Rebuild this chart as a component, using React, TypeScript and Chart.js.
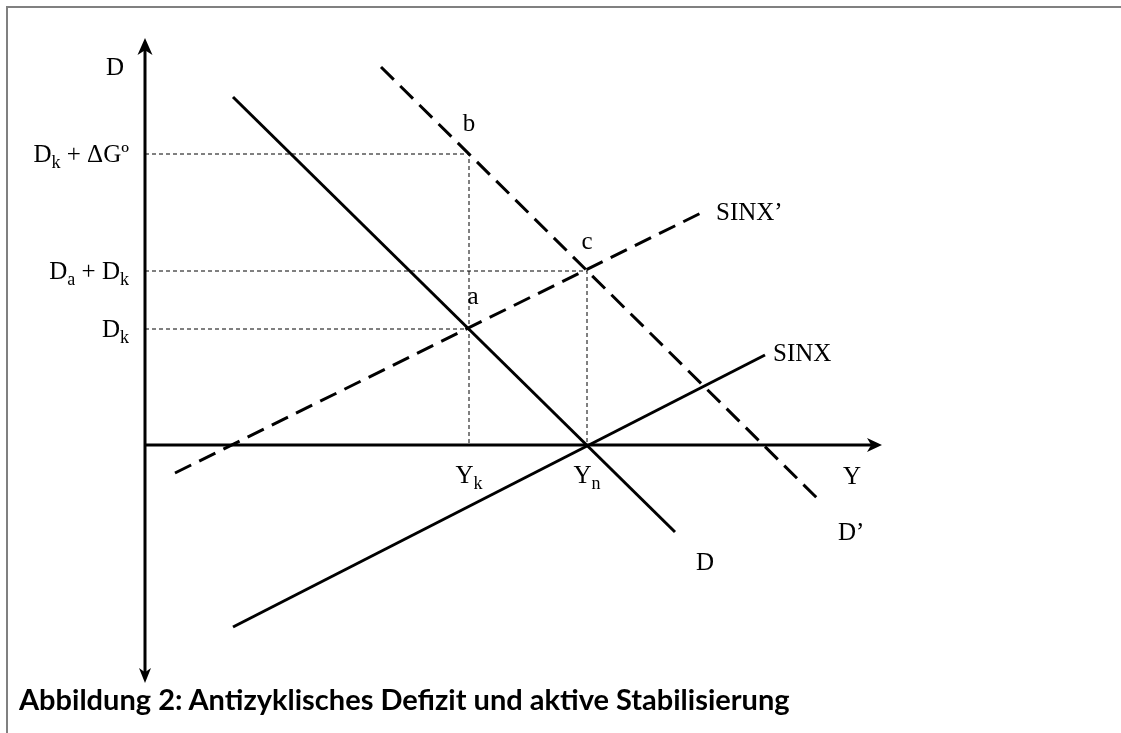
import React, { useEffect, useRef } from 'react';
import { Chart, registerables } from 'chart.js';

Chart.register(...registerables);

// ---- diagram data (abstract units) ----
const axisXRange = [0, 73.7];
const axisYRange = [-23.8, 40.7];

const dLevelLabels = ['D_{k} + ΔGº', 'D_{a} + D_{k}', 'D_{k}'];
const dLevels = [29.1, 17.4, 11.6];

const yLevelLabels = ['Y_{k}', 'Y_{n}'];
const yLevels = [32.4, 44.2];

const curveNames = ['D', 'D’', 'SINX', 'SINX’'];
const curveStartX = [8.8, 23.6, 8.8, 3.0];
const curveStartY = [34.8, 37.8, -18.2, -2.8];
const curveEndX = [53.0, 67.7, 62.0, 55.8];
const curveEndY = [-8.7, -5.8, 9.0, 23.3];
const curveDashed = [false, true, false, true];

const pointNames = ['a', 'b', 'c'];
const pointX = [32.4, 32.4, 44.2];
const pointY = [11.6, 29.1, 17.4];

const axisNames = ['D', 'Y'];

const TITLE = 'Abbildung 2: Antizyklisches Defizit und aktive Stabilisierung';

// ---- styles ----
const SERIF = '"Liberation Serif", "DejaVu Serif", serif';
const FONT_SIZE = 25;
const CAP = 0.662;
const curveLabelOffsets = [
  { dx: 30, dy: 30, align: 'center' },
  { dx: 16, dy: 29, align: 'left' },
  { dx: 8, dy: -2, align: 'left' },
  { dx: 13, dy: 0, align: 'left' },
];
const pointLabelOffsets = [
  { dx: 4, dy: -33 },
  { dx: 0, dy: -31 },
  { dx: 0, dy: -30 },
];

function parseRich(text: string) {
  const segs: { t: string; sub: boolean }[] = [];
  const re = /_\{([^}]*)\}/g;
  let last = 0;
  let m: RegExpExecArray | null;
  while ((m = re.exec(text))) {
    if (m.index > last) segs.push({ t: text.slice(last, m.index), sub: false });
    segs.push({ t: m[1], sub: true });
    last = m.index + m[0].length;
  }
  if (last < text.length) segs.push({ t: text.slice(last), sub: false });
  return segs;
}

// y = visual centre of capitals
function drawRich(ctx: CanvasRenderingContext2D, text: string, x: number, y: number, align: string) {
  const segs = parseRich(text);
  const mainFont = `${FONT_SIZE}px ${SERIF}`;
  const subFont = `${Math.round(FONT_SIZE * 0.72)}px ${SERIF}`;
  let total = 0;
  const widths = segs.map((s) => {
    ctx.font = s.sub ? subFont : mainFont;
    const w = ctx.measureText(s.t).width;
    total += w;
    return w;
  });
  let cx = align === 'right' ? x - total : align === 'center' ? x - total / 2 : x;
  const base = y + (FONT_SIZE * CAP) / 2;
  ctx.textAlign = 'left';
  ctx.textBaseline = 'alphabetic';
  ctx.fillStyle = '#000';
  segs.forEach((s, i) => {
    ctx.font = s.sub ? subFont : mainFont;
    ctx.fillText(s.t, cx, s.sub ? base + 6 : base);
    cx += widths[i];
  });
}

function drawArrow(ctx: CanvasRenderingContext2D, tipX: number, tipY: number, fromX: number, fromY: number, len: number, half: number) {
  const ang = Math.atan2(tipY - fromY, tipX - fromX);
  const cos = Math.cos(ang);
  const sin = Math.sin(ang);
  const bx = tipX - cos * len;
  const by = tipY - sin * len;
  const nx = tipX - cos * len * 0.72;
  const ny = tipY - sin * len * 0.72;
  ctx.beginPath();
  ctx.moveTo(tipX, tipY);
  ctx.lineTo(bx - sin * half, by + cos * half);
  ctx.lineTo(nx, ny);
  ctx.lineTo(bx + sin * half, by - cos * half);
  ctx.closePath();
  ctx.fillStyle = '#000';
  ctx.fill();
}

const decorPlugin = {
  id: 'decor',
  afterDatasetsDraw(chart: any) {
    const ctx: CanvasRenderingContext2D = chart.ctx;
    const xs = chart.scales.x;
    const ys = chart.scales.y;
    const px = (v: number) => xs.getPixelForValue(v);
    const py = (v: number) => ys.getPixelForValue(v);
    ctx.save();
    const ox = px(0);
    const oy = py(0);
    drawArrow(ctx, ox, py(axisYRange[1]), ox, oy, 17, 7.5);
    drawArrow(ctx, ox, py(axisYRange[0]), ox, oy, 15, 6);
    drawArrow(ctx, px(axisXRange[1]), oy, ox, oy, 15, 7);

    drawRich(ctx, axisNames[0], ox - 30, py(axisYRange[1]) + 29, 'center');
    drawRich(ctx, axisNames[1], px(axisXRange[1]) - 30, oy + 31, 'center');

    dLevelLabels.forEach((l, i) => drawRich(ctx, l, ox - 16, py(dLevels[i]), 'right'));
    yLevelLabels.forEach((l, i) => drawRich(ctx, l, px(yLevels[i]), oy + 30, 'center'));

    curveNames.forEach((n, i) => {
      const o = curveLabelOffsets[i];
      drawRich(ctx, n, px(curveEndX[i]) + o.dx, py(curveEndY[i]) + o.dy, o.align);
    });

    pointNames.forEach((n, i) => {
      const o = pointLabelOffsets[i];
      drawRich(ctx, n, px(pointX[i]) + o.dx, py(pointY[i]) + o.dy, 'center');
    });
    ctx.restore();
  },
};

export default function App() {
  const ref = useRef<HTMLCanvasElement | null>(null);
  useEffect(() => {
    if (!ref.current) return;
    const line = (data: { x: number; y: number }[], width: number, dash: number[], color = '#000') => ({
      data,
      showLine: true,
      borderColor: color,
      backgroundColor: color,
      borderWidth: width,
      borderDash: dash,
      pointRadius: 0,
      pointHoverRadius: 0,
      fill: false,
      tension: 0,
      clip: false as any,
      borderCapStyle: 'butt',
    });
    const datasets: any[] = [];
    datasets.push(line([{ x: 0, y: dLevels[0] }, { x: yLevels[0], y: dLevels[0] }, { x: yLevels[0], y: 0 }], 1, [4, 3], '#000'));
    datasets.push(line([{ x: 0, y: dLevels[1] }, { x: yLevels[1], y: dLevels[1] }, { x: yLevels[1], y: 0 }], 1, [4, 3], '#000'));
    datasets.push(line([{ x: 0, y: dLevels[2] }, { x: yLevels[0], y: dLevels[2] }], 1, [4, 3], '#000'));
    datasets.push(line([{ x: 0, y: axisYRange[0] + 0.8 }, { x: 0, y: axisYRange[1] - 0.8 }], 3, []));
    datasets.push(line([{ x: 0, y: 0 }, { x: axisXRange[1] - 0.8, y: 0 }], 3, []));
    curveNames.forEach((_, i) => {
      datasets.push(
        line(
          [
            { x: curveStartX[i], y: curveStartY[i] },
            { x: curveEndX[i], y: curveEndY[i] },
          ],
          3,
          curveDashed[i] ? [18, 9] : []
        )
      );
    });

    const chart = new Chart(ref.current, {
      type: 'scatter',
      data: { datasets },
      options: {
        animation: false,
        responsive: false,
        devicePixelRatio: 1,
        layout: { padding: 0 },
        events: [],
        plugins: { legend: { display: false }, tooltip: { enabled: false }, title: { display: false } },
        scales: {
          x: { type: 'linear', display: false, min: -14.5, max: 97.6 },
          y: { type: 'linear', display: false, min: -28.8, max: 44.5 },
        },
      },
      plugins: [decorPlugin],
    } as any);
    return () => chart.destroy();
  }, []);

  return (
    <div style={{ position: 'fixed', left: 0, top: 0, width: 1121, height: 733, background: '#fff', overflow: 'hidden' }}>
      <canvas ref={ref} width={1121} height={733} style={{ position: 'absolute', left: 0, top: 0, width: 1121, height: 733 }} />
      <div
        style={{
          position: 'absolute',
          left: 6,
          top: 6,
          right: 0,
          bottom: 0,
          borderLeft: '2px solid #808080',
          borderTop: '2px solid #808080',
          pointerEvents: 'none',
        }}
      />
      <div
        style={{
          position: 'absolute',
          left: 19,
          top: 684,
          fontFamily: 'Lato, "Open Sans", sans-serif',
          fontWeight: 700,
          fontSize: 29,
          lineHeight: '29px',
          color: '#000',
          whiteSpace: 'nowrap',
        }}
      >
        {TITLE}
      </div>
    </div>
  );
}
